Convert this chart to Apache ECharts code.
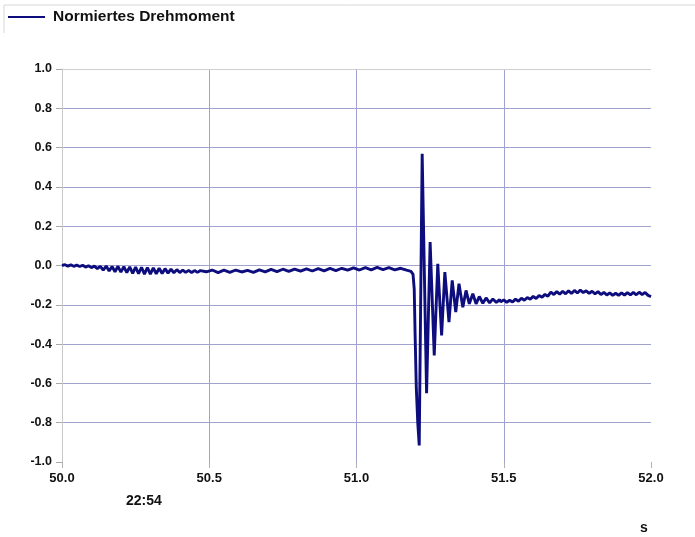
<!DOCTYPE html>
<html>
<head>
<meta charset="utf-8">
<script src="https://cdn.jsdelivr.net/npm/echarts@6/dist/echarts.min.js"></script>
<style>
  html, body { margin: 0; padding: 0; background: #fff; }
  #chart { width: 695px; height: 537px; }
</style>
</head>
<body>
<div id="chart"></div>
<script>
// ----- data -----
var seriesName = 'Normiertes Drehmoment';
var xTicks = [50.0, 50.5, 51.0, 51.5, 52.0];
var yTicks = [-1.0, -0.8, -0.6, -0.4, -0.2, 0.0, 0.2, 0.4, 0.6, 0.8, 1.0];
var timeLabel = '22:54';
var unitLabel = 's';

// quiet run-up with the 50 Hz ripple
var preTime = [50.00, 50.01, 50.02, 50.03, 50.04, 50.05, 50.06, 50.07, 50.08, 50.09,
  50.10, 50.11, 50.12, 50.13, 50.14, 50.15, 50.16, 50.17, 50.18, 50.19,
  50.20, 50.21, 50.22, 50.23, 50.24, 50.25, 50.26, 50.27, 50.28, 50.29,
  50.30, 50.31, 50.32, 50.33, 50.34, 50.35, 50.36, 50.37, 50.38, 50.39,
  50.40, 50.41, 50.42, 50.43, 50.44, 50.45, 50.46, 50.47, 50.49, 50.51,
  50.53, 50.55, 50.57, 50.59, 50.61, 50.63, 50.65, 50.67, 50.69, 50.71,
  50.73, 50.75, 50.77, 50.79, 50.81, 50.83, 50.85, 50.87, 50.89, 50.91,
  50.93, 50.95, 50.97, 50.99, 51.01, 51.03, 51.05, 51.07, 51.09, 51.11,
  51.13, 51.15, 51.17, 51.185];
var preValue = [0.000, 0.004, -0.003, 0.003, -0.004, 0.002, -0.005, 0.001, -0.008, -0.001,
  -0.011, -0.003, -0.016, -0.004, -0.023, -0.003, -0.028, -0.005, -0.032, -0.004,
  -0.034, -0.006, -0.036, -0.007, -0.040, -0.008, -0.042, -0.009, -0.044, -0.010,
  -0.044, -0.012, -0.042, -0.014, -0.041, -0.016, -0.039, -0.019, -0.037, -0.021,
  -0.036, -0.023, -0.035, -0.025, -0.036, -0.026, -0.035, -0.026, -0.032, -0.023,
  -0.036, -0.024, -0.035, -0.023, -0.033, -0.025, -0.035, -0.022, -0.032, -0.020,
  -0.031, -0.019, -0.030, -0.018, -0.029, -0.017, -0.028, -0.016, -0.027, -0.015,
  -0.026, -0.014, -0.024, -0.012, -0.023, -0.011, -0.022, -0.010, -0.021, -0.011,
  -0.022, -0.014, -0.024, -0.030];

// the jolt and its decaying swing
var impactTime = [51.192, 51.196, 51.199, 51.203, 51.208, 51.213, 51.223, 51.238, 51.250, 51.264,
  51.276, 51.289, 51.300, 51.314, 51.325, 51.337, 51.348, 51.361, 51.372, 51.383,
  51.395, 51.406, 51.417, 51.429, 51.440, 51.452, 51.463, 51.475, 51.486];
var impactValue = [-0.045, -0.12, -0.35, -0.62, -0.80, -0.916, 0.568, -0.650, 0.119, -0.458,
  0.009, -0.356, -0.034, -0.288, -0.076, -0.237, -0.093, -0.212, -0.127, -0.195,
  -0.144, -0.195, -0.158, -0.192, -0.165, -0.190, -0.170, -0.188, -0.174];

// settled level afterwards
var postTime = [51.49, 51.50, 51.51, 51.52, 51.53, 51.54, 51.55, 51.56, 51.57, 51.58,
  51.59, 51.60, 51.61, 51.62, 51.63, 51.64, 51.65, 51.66, 51.67, 51.68,
  51.69, 51.70, 51.71, 51.72, 51.73, 51.74, 51.75, 51.76, 51.77, 51.78,
  51.79, 51.80, 51.81, 51.82, 51.83, 51.84, 51.85, 51.86, 51.87, 51.88,
  51.89, 51.90, 51.91, 51.92, 51.93, 51.94, 51.95, 51.96, 51.97, 51.98,
  51.99, 52.00];
var postValue = [-0.185, -0.175, -0.188, -0.177, -0.186, -0.171, -0.182, -0.167, -0.177, -0.163,
  -0.172, -0.157, -0.168, -0.153, -0.162, -0.147, -0.156, -0.135, -0.148, -0.133,
  -0.146, -0.131, -0.144, -0.129, -0.142, -0.127, -0.140, -0.125, -0.138, -0.129,
  -0.142, -0.131, -0.144, -0.133, -0.148, -0.137, -0.150, -0.139, -0.152, -0.141,
  -0.152, -0.139, -0.151, -0.138, -0.150, -0.137, -0.149, -0.136, -0.148, -0.137,
  -0.152, -0.158];

(function() {
  'use strict';

  var navy = '#0d0d7d';
  var gridBlue = '#a2a2cf';
  var faint = '#cfcfcf';
  var font = '"Liberation Sans", Arial, sans-serif';

  function pairs(ts, vs) {
    return ts.map(function(t, i) { return [t, vs[i]]; });
  }
  var points = pairs(preTime, preValue)
    .concat(pairs(impactTime, impactValue))
    .concat(pairs(postTime, postValue));

  var chart = echarts.init(document.getElementById('chart'), null, { renderer: 'canvas' });
  chart.setOption({
    animation: false,
    backgroundColor: '#fff',
    textStyle: { fontFamily: font },
    legend: {
      left: 3, top: 4,
      icon: 'rect', itemWidth: 37, itemHeight: 2,
      textStyle: { fontFamily: font, fontSize: 15.5, fontWeight: 'bold', color: '#111', padding: [0, 0, 0, 3] },
      data: [seriesName]
    },
    grid: { left: 62, right: 44, top: 69, bottom: 75 },
    xAxis: {
      type: 'value',
      min: xTicks[0], max: xTicks[xTicks.length - 1], interval: 0.5,
      axisLine: { show: false, onZero: false },
      axisTick: { show: true, length: 6, lineStyle: { color: '#b0b0b0' } },
      axisLabel: {
        margin: 10, color: '#111', fontFamily: font, fontSize: 13, fontWeight: 'bold',
        formatter: function(v) { return v.toFixed(1); }
      },
      splitLine: { show: true, showMinLine: false, showMaxLine: false, lineStyle: { color: gridBlue, width: 1 } }
    },
    yAxis: {
      type: 'value',
      min: yTicks[0], max: yTicks[yTicks.length - 1], interval: 0.2,
      axisLine: { show: true, onZero: false, lineStyle: { color: '#c8c8c8' } },
      axisTick: { show: true, length: 6, lineStyle: { color: '#a8a8a8' } },
      axisLabel: {
        margin: 10, color: '#111', fontFamily: font, fontSize: 12.5, fontWeight: 'bold',
        formatter: function(v) { return (Math.abs(v) < 1e-9 ? 0 : v).toFixed(1); }
      },
      splitLine: { show: true, showMinLine: false, showMaxLine: false, lineStyle: { color: gridBlue, width: 1 } }
    },
    graphic: [
      { type: 'polyline', silent: true, shape: { points: [[4, 33], [4, 5], [695, 5]] },
        style: { stroke: '#d6d6d6', lineWidth: 1, fill: null } },
      { type: 'text', left: 126, top: 494, silent: true,
        style: { text: timeLabel, font: 'bold 14px ' + font, fill: '#111' } },
      { type: 'text', left: 640, top: 521, silent: true,
        style: { text: unitLabel, font: 'bold 14px ' + font, fill: '#111' } }
    ],
    series: [{
      name: seriesName,
      type: 'line',
      data: points,
      showSymbol: false,
      symbol: 'none',
      itemStyle: { color: navy },
      lineStyle: { color: navy, width: 2.9 },
      markLine: {
        silent: true, symbol: 'none', label: { show: false },
        lineStyle: { color: faint, type: 'solid', width: 1 },
        data: [{ yAxis: yTicks[yTicks.length - 1] }]
      }
    }]
  });
})();
</script>
</body>
</html>
